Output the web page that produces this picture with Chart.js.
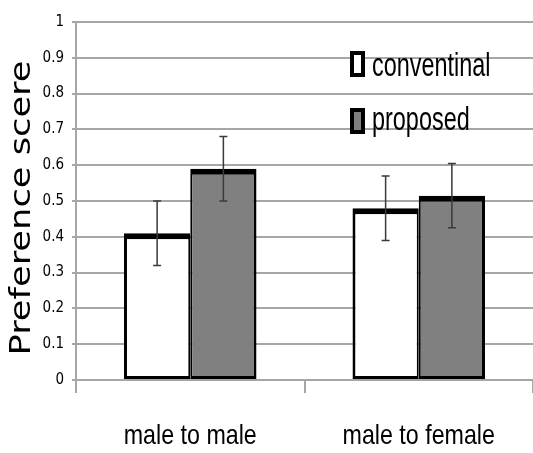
<!DOCTYPE html>
<html>
<head>
<meta charset="utf-8">
<script src="https://cdn.jsdelivr.net/npm/chart.js@4.4.1/dist/chart.umd.min.js"></script>
<style>
    html, body { margin: 0; padding: 0; background: #ffffff; }
    #wrap { width: 533px; height: 453px; }
</style>
</head>
<body>
<div id="wrap"><canvas id="preferenceChart" width="533" height="453"></canvas></div>
<script>
// chart data
const categories = ['male to male', 'male to female'];
const seriesNames = ['conventinal', 'proposed'];
const conventionalScores = [0.41, 0.48];
const proposedScores = [0.59, 0.515];
const conventionalErrors = [0.09, 0.09];
const proposedErrors = [0.09, 0.09];
const yTickLabels = ['0', '0.1', '0.2', '0.3', '0.4', '0.5', '0.6', '0.7', '0.8', '0.9', '1'];
const yTitle = 'Preference scere';

const narrowFont = "'DejaVu Sans Condensed', 'Liberation Sans Narrow', sans-serif";
const textFont = '"Liberation Sans", Arial, sans-serif';
const gridGray = '#a6a6a6';

// error bars drawn at each bar's centre
const errorBarPlugin = {
    id: 'errorBars',
    afterDatasetsDraw(chart) {
        const ctx = chart.ctx;
        const yScale = chart.scales.y;
        chart.data.datasets.forEach((ds, i) => {
            const meta = chart.getDatasetMeta(i);
            meta.data.forEach((bar, j) => {
                const top = yScale.getPixelForValue(ds.data[j] + ds.errors[j]);
                const bottom = yScale.getPixelForValue(ds.data[j] - ds.errors[j]);
                ctx.save();
                ctx.strokeStyle = '#3a3a3a';
                ctx.lineWidth = 1.5;
                ctx.beginPath();
                ctx.moveTo(bar.x, top);
                ctx.lineTo(bar.x, bottom);
                ctx.moveTo(bar.x - 4, top);
                ctx.lineTo(bar.x + 4, top);
                ctx.moveTo(bar.x - 4, bottom);
                ctx.lineTo(bar.x + 4, bottom);
                ctx.stroke();
                ctx.restore();
            });
        });
    }
};

// category labels under the x axis, squeezed like the original
const categoryLabelPlugin = {
    id: 'categoryLabels',
    afterDraw(chart) {
        const ctx = chart.ctx;
        const xScale = chart.scales.x;
        chart.data.labels.forEach((label, i) => {
            ctx.save();
            ctx.translate(xScale.getPixelForTick(i), 444);
            ctx.scale(0.83, 1);
            ctx.fillStyle = '#000000';
            ctx.font = '28px ' + textFont;
            ctx.textAlign = 'center';
            ctx.textBaseline = 'alphabetic';
            ctx.fillText(label, 0, 0);
            ctx.restore();
        });
    }
};

// legend inside the plot, upper right
const insideLegendPlugin = {
    id: 'insideLegend',
    afterDraw(chart) {
        const ctx = chart.ctx;
        const boxTops = [51, 108];
        const baselines = [76, 130];
        chart.data.datasets.forEach((ds, i) => {
            ctx.save();
            ctx.fillStyle = ds.backgroundColor;
            ctx.fillRect(350, boxTops[i], 15, 26);
            ctx.strokeStyle = '#000000';
            ctx.lineWidth = 4;
            ctx.strokeRect(352, boxTops[i] + 2, 11, 22);
            ctx.translate(372, baselines[i]);
            ctx.scale(0.71, 1);
            ctx.fillStyle = '#000000';
            ctx.font = '33px ' + textFont;
            ctx.textAlign = 'left';
            ctx.textBaseline = 'alphabetic';
            ctx.fillText(ds.label, 0, 0);
            ctx.restore();
        });
    }
};

// rotated, stretched y axis title
const yTitlePlugin = {
    id: 'yTitle',
    afterDraw(chart) {
        const ctx = chart.ctx;
        ctx.save();
        ctx.font = '32px "DejaVu Sans", sans-serif';
        const w = ctx.measureText(yTitle).width;
        ctx.translate(23, 208);
        ctx.rotate(-Math.PI / 2);
        ctx.scale(295 / w, 0.86);
        ctx.fillStyle = '#000000';
        ctx.textAlign = 'center';
        ctx.textBaseline = 'middle';
        ctx.fillText(yTitle, 0, 0);
        ctx.restore();
    }
};

const ctxPreference = document.getElementById('preferenceChart').getContext('2d');
const preferenceChart = new Chart(ctxPreference, {
    type: 'bar',
    data: {
        labels: categories,
        datasets: [{
            label: seriesNames[0],
            data: conventionalScores,
            errors: conventionalErrors,
            backgroundColor: '#ffffff',
            borderColor: '#000000',
            borderWidth: { top: 6, left: 3, right: 2, bottom: 3 },
            borderSkipped: false
        }, {
            label: seriesNames[1],
            data: proposedScores,
            errors: proposedErrors,
            backgroundColor: '#808080',
            borderColor: '#000000',
            borderWidth: { top: 6, left: 2, right: 3, bottom: 3 },
            borderSkipped: false
        }]
    },
    options: {
        responsive: false,
        animation: false,
        layout: { padding: { top: 22, left: 0, right: -4, bottom: 0 } },
        datasets: {
            bar: { categoryPercentage: 0.58, barPercentage: 1.0 }
        },
        scales: {
            x: {
                afterFit(scale) { scale.height = 73; },
                grid: {
                    drawOnChartArea: false,
                    drawTicks: true,
                    tickLength: 13,
                    color: gridGray,
                    lineWidth: 2
                },
                border: { display: true, color: gridGray, width: 2 },
                ticks: { display: false }
            },
            y: {
                min: 0,
                max: 1,
                afterFit(scale) { scale.width = 76; },
                grid: {
                    color: gridGray,
                    lineWidth: 2,
                    tickLength: 4
                },
                border: { display: true, color: gridGray, width: 2 },
                ticks: {
                    stepSize: 0.1,
                    padding: 8,
                    color: '#000000',
                    font: { family: narrowFont, size: 15 },
                    callback: (value, index) => yTickLabels[index]
                }
            }
        },
        plugins: {
            legend: { display: false },
            tooltip: { enabled: false }
        }
    },
    plugins: [errorBarPlugin, categoryLabelPlugin, insideLegendPlugin, yTitlePlugin]
});
</script>
</body>
</html>
